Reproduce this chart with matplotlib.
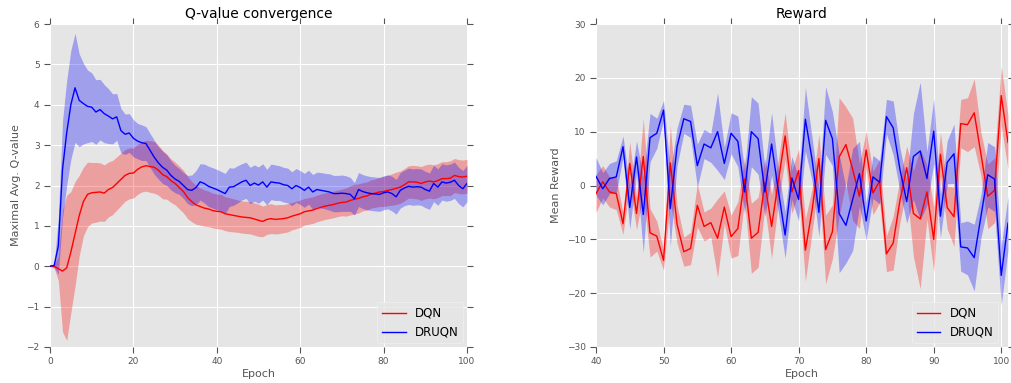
import numpy as np
import matplotlib
matplotlib.use('Agg')
import matplotlib.pyplot as plt

plt.style.use('ggplot')
plt.rcParams.update({
    'font.family': 'DejaVu Sans',
    'xtick.top': True,
    'ytick.right': True,
    'xtick.direction': 'out',
    'ytick.direction': 'out',
    'xtick.major.size': 4,
    'ytick.major.size': 4,
    'xtick.color': '#555555',
    'ytick.color': '#555555',
    'xtick.labelsize': 6.5,
    'ytick.labelsize': 6.5,
    'axes.labelsize': 8,
    'axes.labelcolor': '#555555',
    'axes.titlesize': 10,
    'legend.fontsize': 8.5,
})

# ---- Q-value convergence (epochs 0..100) ----
q_epochs = np.arange(0, 101)
dqn_q = [0.00, 0.00, -0.06, -0.12, -0.04, 0.35, 0.80, 1.25, 1.60, 1.78,
         1.82, 1.83, 1.84, 1.81, 1.90, 1.95, 2.05, 2.15, 2.25, 2.30,
         2.31, 2.40, 2.46, 2.49, 2.47, 2.45, 2.38, 2.27, 2.22, 2.12,
         2.05, 1.95, 1.85, 1.70, 1.60, 1.52, 1.48, 1.44, 1.42, 1.38,
         1.36, 1.35, 1.30, 1.28, 1.26, 1.24, 1.22, 1.21, 1.20, 1.17,
         1.14, 1.11, 1.16, 1.18, 1.16, 1.17, 1.18, 1.20, 1.24, 1.27,
         1.30, 1.35, 1.37, 1.39, 1.43, 1.46, 1.49, 1.51, 1.53, 1.56,
         1.58, 1.59, 1.63, 1.66, 1.68, 1.72, 1.74, 1.79, 1.81, 1.84,
         1.85, 1.88, 1.90, 1.93, 1.96, 2.02, 2.09, 2.09, 2.08, 2.05,
         2.09, 2.11, 2.09, 2.12, 2.17, 2.17, 2.18, 2.25, 2.22, 2.21,
         2.23]
dqn_q_std = [0.00, 0.05, 0.30, 1.50, 1.80, 1.50, 1.30, 1.00, 0.85, 0.80,
             0.75, 0.74, 0.72, 0.70, 0.68, 0.67, 0.66, 0.65, 0.64, 0.63,
             0.62, 0.62, 0.62, 0.63, 0.64, 0.64, 0.62, 0.60, 0.56, 0.54,
             0.53, 0.53, 0.53, 0.52, 0.50, 0.48, 0.46, 0.45, 0.44, 0.43,
             0.43, 0.43, 0.42, 0.42, 0.41, 0.40, 0.40, 0.40, 0.40, 0.40,
             0.40, 0.38, 0.37, 0.37, 0.36, 0.36, 0.35, 0.35, 0.34, 0.34,
             0.34, 0.33, 0.33, 0.33, 0.33, 0.33, 0.33, 0.33, 0.33, 0.33,
             0.33, 0.35, 0.36, 0.37, 0.36, 0.35, 0.35, 0.35, 0.35, 0.36,
             0.37, 0.38, 0.39, 0.40, 0.40, 0.40, 0.40, 0.41, 0.41, 0.42,
             0.42, 0.42, 0.42, 0.42, 0.42, 0.42, 0.43, 0.42, 0.42, 0.42,
             0.42]
druqn_q = [0.00, 0.02, 0.50, 2.40, 3.30, 4.00, 4.42, 4.11, 4.03, 3.96,
           3.94, 3.82, 3.88, 3.78, 3.72, 3.65, 3.70, 3.36, 3.27, 3.30,
           3.17, 3.10, 3.06, 3.04, 2.87, 2.70, 2.56, 2.45, 2.38, 2.25,
           2.16, 2.10, 2.00, 1.90, 1.88, 1.95, 2.09, 2.05, 1.98, 1.94,
           1.90, 1.85, 1.80, 1.96, 1.97, 2.03, 2.09, 2.13, 2.00, 2.06,
           2.01, 2.09, 1.96, 2.09, 2.07, 2.06, 2.02, 2.00, 1.92, 2.00,
           1.95, 1.88, 1.96, 1.84, 1.90, 1.88, 1.86, 1.84, 1.80, 1.80,
           1.81, 1.80, 1.78, 1.67, 1.90, 1.85, 1.82, 1.80, 1.79, 1.78,
           1.82, 1.84, 1.80, 1.72, 1.88, 1.94, 1.98, 1.96, 1.97, 1.96,
           1.90, 1.86, 2.05, 1.96, 2.09, 2.06, 2.08, 2.13, 2.00, 1.92,
           2.05]
druqn_q_std = [0.00, 0.05, 0.70, 1.20, 1.30, 1.35, 1.35, 1.15, 1.00, 0.90,
               0.85, 0.80, 0.75, 0.72, 0.68, 0.62, 0.58, 0.55, 0.50, 0.48,
               0.46, 0.44, 0.44, 0.42, 0.42, 0.42, 0.40, 0.40, 0.38, 0.36,
               0.34, 0.32, 0.32, 0.35, 0.38, 0.42, 0.45, 0.48, 0.50, 0.50,
               0.50, 0.50, 0.50, 0.48, 0.46, 0.46, 0.45, 0.45, 0.45, 0.45,
               0.45, 0.45, 0.44, 0.44, 0.44, 0.43, 0.43, 0.43, 0.42, 0.42,
               0.42, 0.42, 0.42, 0.43, 0.43, 0.44, 0.44, 0.45, 0.45, 0.45,
               0.45, 0.44, 0.42, 0.40, 0.42, 0.42, 0.42, 0.42, 0.42, 0.42,
               0.42, 0.42, 0.43, 0.43, 0.44, 0.44, 0.45, 0.45, 0.45, 0.45,
               0.45, 0.45, 0.45, 0.45, 0.45, 0.45, 0.45, 0.45, 0.45, 0.45,
               0.45]

# ---- Reward (epochs 40..101) ----
r_epochs = np.arange(40, 102)
dqn_r = [-1.5, 0.7, -1.2, -1.5, -7.1, 4.1, -5.2, 5.4, -8.8, -9.4,
         -13.9, 4.2, -7.2, -12.3, -11.7, -3.7, -7.6, -6.9, -9.8, -4.0,
         -9.5, -8.0, 1.2, -9.8, -8.7, 0.5, -7.6, 0.8, 9.2, -1.2,
         2.8, -12.0, -4.5, 5.0, -11.9, -8.6, 5.3, 7.6, 3.0, -2.0,
         6.6, -1.4, 0.8, -12.7, -10.7, -2.8, 3.3, -5.2, -6.2, -1.2,
         -10.0, 5.8, -4.1, -5.8, 11.5, 11.3, 13.5, 5.8, -2.0, -0.9,
         16.7, 8.0]
druqn_r = [1.7, -0.6, 1.3, 1.6, 7.2, -4.1, 5.3, -5.4, 8.9, 9.7,
           14.0, -4.3, 7.2, 12.4, 11.9, 3.7, 7.7, 7.0, 10.0, 4.1,
           9.7, 8.2, -1.2, 10.0, 8.7, -1.2, 7.7, -1.0, -9.2, 1.4,
           -2.6, 12.3, 4.8, -5.0, 12.1, 8.7, -5.2, -7.4, -2.6, 2.2,
           -6.6, 1.6, 0.6, 12.8, 10.7, 3.0, -3.0, 5.4, 6.4, 1.3,
           10.1, -5.7, 4.3, 5.9, -11.4, -11.6, -13.4, -5.7, 2.0, 1.2,
           -16.7, -7.0]
dqn_r_std = [3.5, 3.0, 2.8, 3.0, 2.0, 4.0, 3.0, 7.0, 4.5, 2.8,
             1.8, 7.0, 3.5, 2.7, 3.0, 4.0, 2.7, 2.7, 7.3, 3.0,
             4.0, 5.0, 4.0, 6.5, 6.5, 4.5, 6.0, 4.0, 4.3, 4.0,
             4.0, 5.8, 4.0, 4.5, 6.4, 5.0, 11.0, 7.0, 9.5, 6.0,
             3.5, 4.0, 4.0, 3.3, 5.0, 4.0, 4.0, 8.0, 13.0, 5.0,
             6.0, 4.0, 4.0, 5.5, 4.5, 5.0, 6.3, 4.0, 6.0, 6.0,
             5.5, 5.0]
druqn_r_std = [3.5, 3.0, 2.8, 3.0, 2.0, 4.0, 3.0, 7.0, 4.5, 2.8,
               1.8, 7.0, 3.5, 2.7, 3.0, 4.0, 2.7, 2.7, 7.2, 3.0,
               3.8, 4.7, 4.0, 6.5, 6.6, 4.5, 5.8, 4.0, 4.3, 4.0,
               4.0, 5.9, 4.0, 4.5, 6.3, 5.0, 11.0, 7.0, 9.5, 6.0,
               3.5, 4.0, 4.0, 3.2, 5.0, 4.0, 4.0, 8.0, 12.8, 5.0,
               6.0, 4.0, 4.0, 5.5, 4.5, 5.0, 6.2, 4.0, 6.0, 6.0,
               5.5, 5.0]


def band_plot(ax, x, mean, std, color, label):
    mean = np.array(mean)
    std = np.array(std)
    ax.fill_between(x, mean - std, mean + std, color=color, alpha=0.3, linewidth=0)
    ax.plot(x, mean, color=color, linewidth=1.0, label=label)


fig = plt.figure(figsize=(10.11, 3.83), dpi=100)
W, H = 1011.0, 383.0

ax1 = fig.add_axes([50 / W, 1 - 347 / H, 417 / W, 323 / H])
band_plot(ax1, q_epochs, dqn_q, dqn_q_std, 'red', 'DQN')
band_plot(ax1, q_epochs, druqn_q, druqn_q_std, 'blue', 'DRUQN')
ax1.set_xlim(0, 100)
ax1.set_ylim(-2, 6)
ax1.set_xticks(range(0, 101, 20))
ax1.set_yticks(range(-2, 7))
ax1.set_title('Q-value convergence', pad=4)
ax1.set_xlabel('Epoch', labelpad=2)
ax1.set_ylabel('Maximal Avg. Q-value', labelpad=4)
leg1 = ax1.legend(loc='lower right', borderaxespad=0.3, handlelength=2.0)
leg1.get_frame().set_edgecolor('#f2f2f2')

ax2 = fig.add_axes([596 / W, 1 - 347 / H, 412 / W, 323 / H])
band_plot(ax2, r_epochs, dqn_r, dqn_r_std, 'red', 'DQN')
band_plot(ax2, r_epochs, druqn_r, druqn_r_std, 'blue', 'DRUQN')
ax2.set_xlim(40, 101)
ax2.set_ylim(-30, 30)
ax2.set_xticks(range(40, 101, 10))
ax2.set_yticks(range(-30, 31, 10))
ax2.set_title('Reward', pad=4)
ax2.set_xlabel('Epoch', labelpad=2)
ax2.set_ylabel('Mean Reward', labelpad=4)
leg2 = ax2.legend(loc='lower right', borderaxespad=0.3, handlelength=2.0,
                  bbox_to_anchor=(0.985, 0.0))
leg2.get_frame().set_edgecolor('#f2f2f2')

for ax in (ax1, ax2):
    for s in ax.spines.values():
        s.set_visible(False)

fig.savefig('out.png', dpi=100)
